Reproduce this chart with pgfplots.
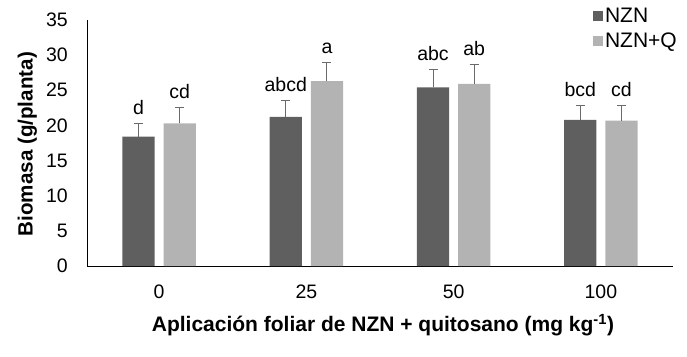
\documentclass[border=0pt]{standalone}
\usepackage{pgfplots}
\pgfplotsset{compat=1.18}
\usepackage{pgfplotstable}
\usepackage{fontspec}
\setmainfont{Liberation Sans}
\definecolor{darkbar}{HTML}{5F5F5F}
\definecolor{lightbar}{HTML}{B3B3B3}
\definecolor{errcol}{HTML}{6A6A6A}
\pgfplotstableread{
x y err lab
0 18.4 1.9 d
1 21.2 2.3 abcd
2 25.4 2.6 abc
3 20.8 2.1 bcd
}\nzn
\pgfplotstableread{
x y err lab
0 20.3 2.2 cd
1 26.3 2.7 a
2 25.9 2.7 ab
3 20.7 2.1 cd
}\nznq
\begin{document}
\begin{tikzpicture}
\useasboundingbox (-87pt,-90pt) rectangle (600pt,266pt);
\begin{axis}[
  scale only axis, width=586pt, height=246pt,
  at={(0,0)}, anchor=south west,
  xmin=-0.49, xmax=3.49, ymin=0, ymax=35,
  axis lines=left, axis line style={-, black, line width=0.8pt},
  xtick={0,1,2,3}, xticklabels={0,25,50,100},
  ytick={0,5,...,35},
  major tick length=0pt,
  tick label style={font=\fontsize{19.5}{22}\selectfont, inner sep=0pt},
  /pgf/number format/assume math mode=true,
  xticklabel style={anchor=center, yshift=-26pt},
  yticklabel style={anchor=east, xshift=-19pt},
  xlabel={\textbf{Aplicación foliar de NZN + quitosano (mg kg\textsuperscript{-1})}},
  ylabel={\textbf{Biomasa (g/planta)}},
  xlabel style={font=\fontsize{21}{24}\selectfont, at={(axis description cs:0.505,-0.24)}, anchor=center, inner sep=0pt},
  ylabel style={font=\fontsize{20.6}{24}\selectfont, at={(axis description cs:-0.102,0.495)}, anchor=center, inner sep=0pt},
  legend style={at={(1,1)}, anchor=north east, xshift=6pt, yshift=14pt, draw=none, fill=none,
    font=\fontsize{21}{24}\selectfont, row sep=5pt, inner sep=0pt,
    nodes={inner sep=2pt}},
  legend cell align=left,
  legend image code/.code={\fill[#1] (0pt,-5pt) rectangle (10pt,5pt);},
  clip=false,
]
\addplot[ybar, bar width=0.218, bar shift=0pt, fill=darkbar, draw=none,
  error bars/.cd, y dir=plus, y explicit,
  error bar style={errcol, line width=1pt},
  error mark options={rotate=90, mark size=4.5pt, errcol, line width=1pt}]
  table[x expr=\thisrow{x}-0.14, y=y, y error=err] {\nzn};
\addlegendentry{NZN}
\addplot[ybar, bar width=0.218, bar shift=0pt, fill=lightbar, draw=none,
  error bars/.cd, y dir=plus, y explicit,
  error bar style={errcol, line width=1pt},
  error mark options={rotate=90, mark size=4.5pt, errcol, line width=1pt}]
  table[x expr=\thisrow{x}+0.14, y=y, y error=err] {\nznq};
\addlegendentry{NZN+Q}
\addplot[draw=none, mark=none, forget plot, nodes near coords, point meta=explicit symbolic,
  nodes near coords style={anchor=base, inner sep=0pt, yshift=9pt, font=\fontsize{19.5}{22}\selectfont, black}]
  table[x expr=\thisrow{x}-0.14, y expr=\thisrow{y}+\thisrow{err}, meta=lab] {\nzn};
\addplot[draw=none, mark=none, forget plot, nodes near coords, point meta=explicit symbolic,
  nodes near coords style={anchor=base, inner sep=0pt, yshift=9pt, font=\fontsize{19.5}{22}\selectfont, black}]
  table[x expr=\thisrow{x}+0.14, y expr=\thisrow{y}+\thisrow{err}, meta=lab] {\nznq};
\end{axis}
\end{tikzpicture}
\end{document}
